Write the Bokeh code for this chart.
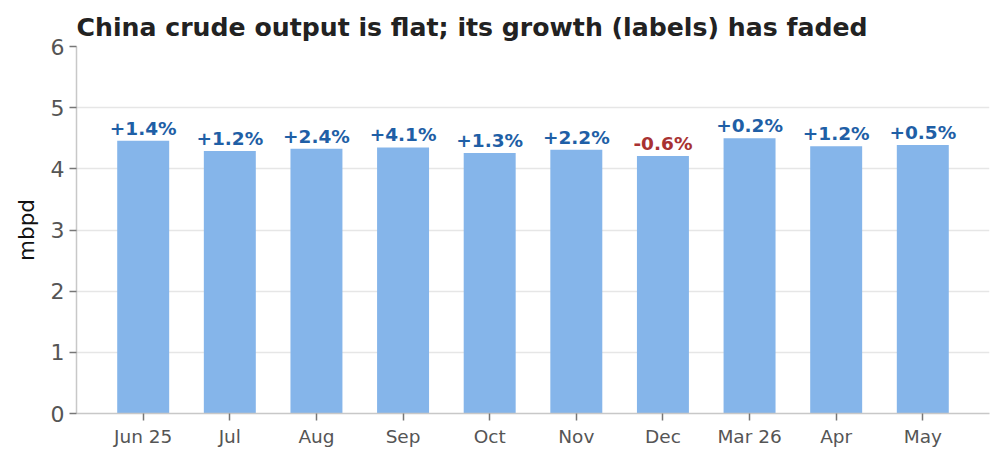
from bokeh.plotting import figure
from bokeh.models import ColumnDataSource, Range1d, FixedTicker, LabelSet
from bokeh.core.properties import value
from bokeh.embed import file_html
from bokeh.resources import INLINE

months = ["Jun 25", "Jul", "Aug", "Sep", "Oct", "Nov", "Dec", "Mar 26", "Apr", "May"]
output_mbpd = [4.46, 4.29, 4.33, 4.35, 4.26, 4.31, 4.21, 4.50, 4.37, 4.39]
growth_pct = [1.4, 1.2, 2.4, 4.1, 1.3, 2.2, -0.6, 0.2, 1.2, 0.5]

xs = list(range(len(months)))
labels = [("+%.1f%%" % g) if g >= 0 else ("%.1f%%" % g) for g in growth_pct]
colors = ["#1f5fa6" if g >= 0 else "#a83232" for g in growth_pct]

src = ColumnDataSource(dict(x=xs, y=output_mbpd, label=labels, color=colors))

p = figure(width=1004, height=462, output_backend="svg", toolbar_location=None,
           x_range=Range1d(-0.77, len(months) - 1 + 0.77), y_range=Range1d(0, 6),
           title="China crude output is flat; its growth (labels) has faded",
           min_border_left=76, min_border_right=15, min_border_bottom=49, min_border_top=46)

p.vbar(x="x", top="y", width=0.6, source=src, fill_color="#85b5ea", line_color=None)

lbl = LabelSet(x="x", y="y", text="label", source=src, text_color="color",
               text_align="center", text_baseline="bottom", y_offset=2,
               text_font=value("DejaVu Sans"), text_font_style="bold",
               text_font_size="18.5px")
p.add_layout(lbl)

p.title.text_font = "DejaVu Sans"
p.title.text_font_size = "25.2px"
p.title.text_font_style = "bold"
p.title.text_color = "#222222"
p.title.offset = 0
p.title.standoff = 9

p.xgrid.grid_line_color = None
p.ygrid.grid_line_color = "#e6e6e6"
p.ygrid.grid_line_width = 1.5
p.outline_line_color = None

p.xaxis.ticker = FixedTicker(ticks=xs)
p.xaxis.major_label_overrides = {i: m for i, m in enumerate(months)}
p.yaxis.ticker = FixedTicker(ticks=[0, 1, 2, 3, 4, 5, 6])

for ax in (p.xaxis[0], p.yaxis[0]):
    ax.axis_line_color = "#c8c8c8"
    ax.axis_line_width = 1.5
    ax.major_tick_line_color = "#777777"
    ax.major_tick_line_width = 1.5
    ax.major_tick_out = 7
    ax.major_tick_in = 0
    ax.minor_tick_line_color = None
    ax.major_label_text_color = "#555555"
    ax.major_label_text_font = "DejaVu Sans"

p.xaxis.major_label_text_font_size = "18.5px"
p.yaxis.major_label_text_font_size = "22px"
p.yaxis.axis_label = "mbpd"
p.yaxis.axis_label_text_font = "DejaVu Sans"
p.yaxis.axis_label_text_font_size = "21.5px"
p.yaxis.axis_label_text_font_style = "normal"
p.yaxis.axis_label_text_color = "#111111"
p.yaxis.axis_label_standoff = 9

open("out.html", "w").write(file_html(p, INLINE))
